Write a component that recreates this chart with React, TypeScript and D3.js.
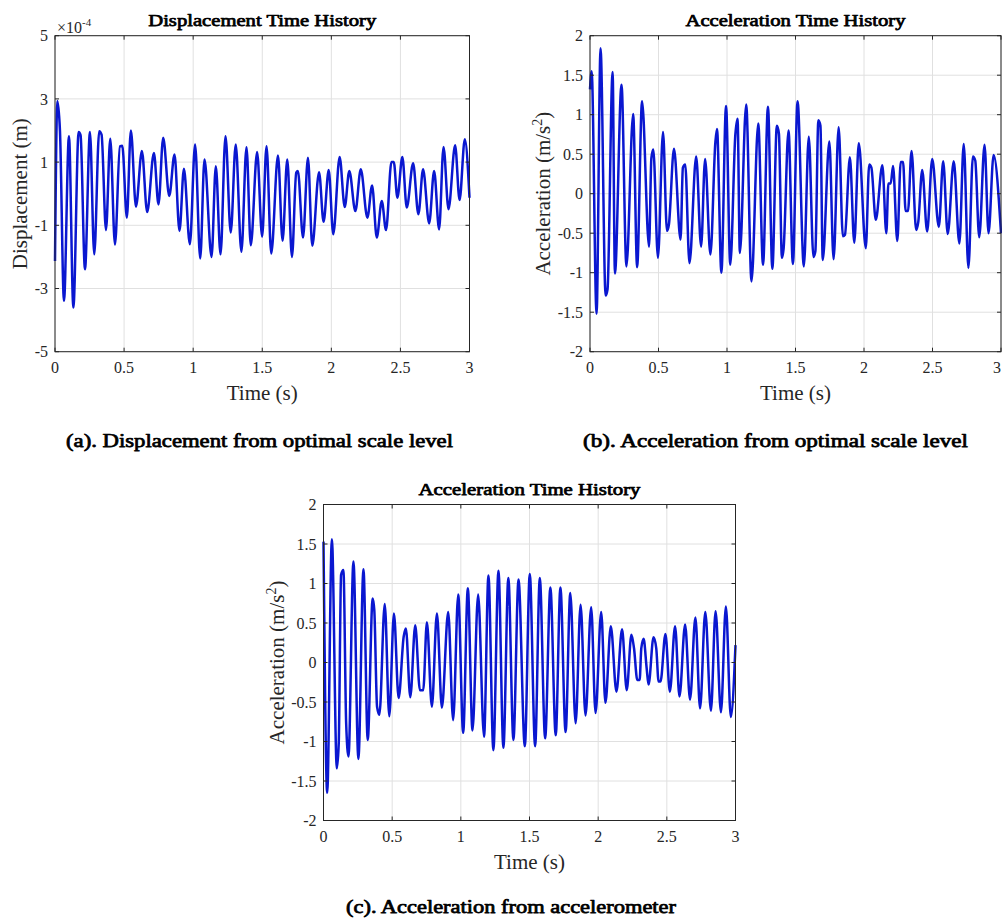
import React from 'react';
import * as d3 from 'd3';

const xTicks = [0, 0.5, 1, 1.5, 2, 2.5, 3];
const xTickLabels = ['0', '0.5', '1', '1.5', '2', '2.5', '3'];
const dispTicks = [-5, -3, -1, 1, 3, 5];
const dispTickLabels = ['-5', '-3', '-1', '1', '3', '5'];
const accTicks = [-2, -1.5, -1, -0.5, 0, 0.5, 1, 1.5, 2];
const accTickLabels = ['-2', '-1.5', '-1', '-0.5', '0', '0.5', '1', '1.5', '2'];

// (a) displacement (x1e-4 m), extrema
const dispTime = [0, 0.017, 0.036, 0.065, 0.101, 0.133, 0.171, 0.185, 0.217, 0.253, 0.284, 0.32, 0.337, 0.369, 0.4, 0.434, 0.47, 0.487, 0.52, 0.549, 0.586, 0.629, 0.667, 0.716, 0.749, 0.783, 0.827, 0.865, 0.901, 0.933, 0.976, 1.014, 1.051, 1.082, 1.133, 1.164, 1.198, 1.234, 1.272, 1.308, 1.349, 1.386, 1.417, 1.463, 1.499, 1.531, 1.565, 1.614, 1.647, 1.681, 1.715, 1.746, 1.758, 1.795, 1.831, 1.862, 1.911, 1.944, 1.981, 2.014, 2.06, 2.097, 2.13, 2.174, 2.213, 2.261, 2.295, 2.329, 2.365, 2.396, 2.435, 2.452, 2.478, 2.514, 2.546, 2.592, 2.63, 2.664, 2.708, 2.744, 2.78, 2.812, 2.848, 2.896, 2.928, 2.966, 3.0];
const dispValue = [-2.13, 2.93, 1.98, -3.39, 1.82, -3.6, 1.95, 1.85, -2.39, 1.95, -1.92, 1.98, 1.87, -1.15, 1.74, -1.61, 1.5, 1.52, -0.76, 2.0, -0.41, 1.35, -0.58, 1.29, -0.34, 1.77, -0.07, 1.24, -1.18, 0.79, -1.6, 1.56, -2.05, 1.08, -2.0, 0.87, -1.92, 1.82, -1.23, 1.56, -1.84, 1.47, -1.63, 1.32, -1.36, 1.5, -1.89, 1.21, -1.49, 1.08, -2.0, 0.67, 0.72, -1.39, 1.14, -1.65, 0.68, -0.89, 0.75, -1.28, 1.16, -0.42, 0.72, -0.55, 0.77, -0.76, 0.26, -1.39, -0.23, -1.15, 1.0, 1.0, -0.13, 1.16, -0.44, 0.96, -0.65, 0.77, -0.94, 0.72, -1.13, 1.48, -0.49, 1.53, -0.2, 1.72, -0.13];

// (b) acceleration from optimal scale level (m/s^2)
const accScaleTime = [0, 0.012, 0.048, 0.077, 0.114, 0.128, 0.165, 0.182, 0.23, 0.266, 0.315, 0.344, 0.38, 0.431, 0.448, 0.462, 0.496, 0.533, 0.562, 0.576, 0.613, 0.661, 0.678, 0.695, 0.726, 0.775, 0.811, 0.84, 0.879, 0.915, 0.927, 0.959, 0.993, 1.024, 1.061, 1.077, 1.094, 1.14, 1.179, 1.228, 1.263, 1.299, 1.331, 1.364, 1.379, 1.401, 1.413, 1.449, 1.481, 1.515, 1.561, 1.597, 1.631, 1.645, 1.667, 1.682, 1.699, 1.747, 1.778, 1.815, 1.846, 1.861, 1.897, 1.929, 1.962, 2.013, 2.038, 2.054, 2.086, 2.134, 2.163, 2.178, 2.195, 2.212, 2.243, 2.268, 2.285, 2.304, 2.321, 2.347, 2.381, 2.396, 2.425, 2.461, 2.498, 2.546, 2.578, 2.611, 2.655, 2.696, 2.728, 2.762, 2.795, 2.812, 2.841, 2.88, 2.909, 2.946, 3.0];
const accScaleValue = [1.32, 1.55, -1.52, 1.84, -1.29, -1.21, 1.54, -1.01, 1.38, -0.92, 1.01, -0.93, 1.17, -0.67, 0.45, 0.56, -0.81, 0.78, -0.47, -0.39, 0.57, -0.58, 0.33, 0.37, -0.88, 0.47, -0.67, 0.44, -0.77, 0.65, 0.82, -1.0, 1.11, -0.9, 0.75, 0.95, -0.75, 1.13, -1.11, 0.89, -0.9, 1.1, -0.95, 0.86, 0.76, -0.81, -0.7, 0.8, -0.89, 1.17, -0.92, 0.72, -0.8, -0.73, 0.93, 0.86, -0.84, 0.66, -0.83, 0.84, -0.54, -0.52, 0.46, -0.62, 0.64, -0.69, 0.37, 0.33, -0.33, 0.36, -0.5, 0.13, 0.13, 0.35, -0.6, 0.4, 0.4, -0.22, -0.22, 0.54, -0.46, -0.36, 0.3, -0.48, 0.44, -0.42, 0.41, -0.51, 0.41, -0.63, 0.63, -0.94, 0.47, 0.42, -0.55, 0.62, -0.5, 0.49, -0.5];

// (c) acceleration from accelerometer (m/s^2)
const accMeterTime = [0, 0.027, 0.061, 0.097, 0.111, 0.128, 0.145, 0.165, 0.182, 0.218, 0.254, 0.291, 0.322, 0.358, 0.37, 0.39, 0.407, 0.446, 0.479, 0.513, 0.547, 0.584, 0.6, 0.632, 0.668, 0.702, 0.726, 0.753, 0.789, 0.826, 0.862, 0.908, 0.944, 0.981, 1.017, 1.051, 1.085, 1.126, 1.169, 1.201, 1.237, 1.274, 1.31, 1.346, 1.383, 1.42, 1.466, 1.502, 1.541, 1.575, 1.614, 1.652, 1.691, 1.725, 1.763, 1.797, 1.836, 1.872, 1.908, 1.949, 1.981, 2.022, 2.053, 2.092, 2.133, 2.174, 2.208, 2.242, 2.261, 2.285, 2.302, 2.314, 2.331, 2.353, 2.367, 2.403, 2.423, 2.44, 2.454, 2.49, 2.522, 2.56, 2.592, 2.633, 2.669, 2.708, 2.742, 2.78, 2.821, 2.855, 2.894, 2.93, 2.966, 3.0];
const accMeterValue = [1.53, -1.65, 1.56, -1.34, -1.02, 1.11, 1.17, -0.77, -1.19, 1.28, -1.22, 1.18, -0.98, 0.81, 0.66, -0.56, -0.66, 0.74, -0.68, 0.62, -0.45, 0.33, 0.43, -0.44, 0.47, -0.35, -0.35, 0.51, -0.56, 0.62, -0.57, 0.64, -0.73, 0.86, -0.89, 0.94, -0.86, 0.86, -0.94, 1.1, -1.11, 1.16, -1.08, 1.07, -0.98, 1.05, -1.06, 1.12, -1.06, 1.07, -0.96, 0.95, -0.92, 0.95, -0.88, 0.88, -0.77, 0.73, -0.67, 0.7, -0.64, 0.64, -0.51, 0.46, -0.37, 0.42, -0.35, 0.35, 0.18, -0.22, -0.22, 0.18, 0.3, -0.07, -0.28, 0.32, 0.18, -0.24, -0.24, 0.36, -0.37, 0.46, -0.43, 0.48, -0.47, 0.57, -0.58, 0.64, -0.61, 0.65, -0.63, 0.71, -0.69, 0.22];

const FONT = '"Liberation Serif", "Times New Roman", Times, serif';
const AXC = '#262626';
const LINE = '#0a17d0';

type PanelProps = {
  x0: number; x1: number; y0: number; y1: number;
  yDomain: [number, number];
  yTicks: number[]; yTickLabels: string[];
  time: number[]; values: number[];
  title: string; titleWidth: number;
  ylabel: React.ReactNode; ylabelX: number;
};

function BoldText(props: any) {
  const { children, ...rest } = props;
  return (
    <text {...rest} fontFamily={FONT} fill="#000" stroke="#000" strokeWidth={0.75} strokeLinejoin="round">{children}</text>
  );
}

function Panel(p: PanelProps) {
  const x = d3.scaleLinear().domain([0, 3]).range([p.x0, p.x1]);
  const y = d3.scaleLinear().domain(p.yDomain).range([p.y1, p.y0]);
  const pts = p.time.map((t, i) => [t, p.values[i]] as [number, number]);
  const line = d3.line<[number, number]>()
    .x(d => x(d[0]))
    .y(d => y(d[1]))
    .curve(d3.curveMonotoneX);
  const cx = (p.x0 + p.x1) / 2;
  const cy = (p.y0 + p.y1) / 2;
  const tl = 4;
  return (
    <g>
      <rect x={p.x0} y={p.y0} width={p.x1 - p.x0} height={p.y1 - p.y0} fill="#fff" />
      {xTicks.map(t => (
        <line key={'gx' + t} x1={x(t)} x2={x(t)} y1={p.y0} y2={p.y1} stroke="#e0e0e0" strokeWidth={1} />
      ))}
      {p.yTicks.map(v => (
        <line key={'gy' + v} x1={p.x0} x2={p.x1} y1={y(v)} y2={y(v)} stroke="#e0e0e0" strokeWidth={1} />
      ))}
      <path d={line(pts) || ''} fill="none" stroke={LINE} strokeWidth={2.5} strokeLinejoin="round" />
      {xTicks.map(t => (
        <g key={'tx' + t}>
          <line x1={x(t)} x2={x(t)} y1={p.y1} y2={p.y1 - tl} stroke={AXC} />
          <line x1={x(t)} x2={x(t)} y1={p.y0} y2={p.y0 + tl} stroke={AXC} />
        </g>
      ))}
      {p.yTicks.map(v => (
        <g key={'ty' + v}>
          <line x1={p.x0} x2={p.x0 + tl} y1={y(v)} y2={y(v)} stroke={AXC} />
          <line x1={p.x1} x2={p.x1 - tl} y1={y(v)} y2={y(v)} stroke={AXC} />
        </g>
      ))}
      <rect x={p.x0} y={p.y0} width={p.x1 - p.x0} height={p.y1 - p.y0} fill="none" stroke={AXC} strokeWidth={1} />
      {xTicks.map((t, i) => {
        const xx = Math.min(x(t), 1002 - 5);
        return (
          <text key={'lx' + t} x={xx} y={p.y1 + 21} textAnchor="middle" fontSize={16} fill={AXC} fontFamily={FONT}>{xTickLabels[i]}</text>
        );
      })}
      {p.yTicks.map((v, i) => (
        <text key={'ly' + v} x={p.x0 - 7} y={y(v)} dy="0.35em" textAnchor="end" fontSize={16} fill={AXC} fontFamily={FONT}>{p.yTickLabels[i]}</text>
      ))}
      <text x={cx} y={p.y1 + 48} textAnchor="middle" fontSize={21} fill={AXC} fontFamily={FONT}>Time (s)</text>
      <text transform={`translate(${p.ylabelX},${cy}) rotate(-90)`} textAnchor="middle" fontSize={21} fill={AXC} fontFamily={FONT}>{p.ylabel}</text>
      <BoldText x={cx} y={p.y0 - 10} textAnchor="middle" fontSize={17}
        textLength={p.titleWidth} lengthAdjust="spacingAndGlyphs">{p.title}</BoldText>
    </g>
  );
}

const accLabel = (
  <>
    <tspan>Acceleration (m/s</tspan>
    <tspan fontSize={14} dy={-8}>2</tspan>
    <tspan dy={8}>)</tspan>
  </>
);

export default function App() {
  return (
    <svg width={1002} height={924} style={{ position: 'absolute', left: 0, top: 0, background: '#fff' }}>
      <rect x={0} y={0} width={1002} height={924} fill="#fff" />
      <Panel x0={55} x1={469.5} y0={35.7} y1={351.7} yDomain={[-5, 5]}
        yTicks={dispTicks} yTickLabels={dispTickLabels} time={dispTime} values={dispValue}
        title="Displacement Time History" titleWidth={228} ylabel="Displacement (m)" ylabelX={27} />
      <text x={57} y={33} fontSize={16} fill={AXC} fontFamily={FONT}>×10<tspan fontSize={11} dy={-7}>-4</tspan></text>
      <Panel x0={590} x1={1001} y0={35.7} y1={351.7} yDomain={[-2, 2]}
        yTicks={accTicks} yTickLabels={accTickLabels} time={accScaleTime} values={accScaleValue}
        title="Acceleration Time History" titleWidth={220} ylabel={accLabel} ylabelX={550} />
      <Panel x0={323.5} x1={735.5} y0={504.5} y1={820.5} yDomain={[-2, 2]}
        yTicks={accTicks} yTickLabels={accTickLabels} time={accMeterTime} values={accMeterValue}
        title="Acceleration Time History" titleWidth={222} ylabel={accLabel} ylabelX={284} />
      <BoldText x={259.5} y={447} textAnchor="middle" fontSize={19}
        textLength={387} lengthAdjust="spacingAndGlyphs">(a). Displacement from optimal scale level</BoldText>
      <BoldText x={775.5} y={447} textAnchor="middle" fontSize={19}
        textLength={385} lengthAdjust="spacingAndGlyphs">(b). Acceleration from optimal scale level</BoldText>
      <BoldText x={511} y={913} textAnchor="middle" fontSize={19}
        textLength={330} lengthAdjust="spacingAndGlyphs">(c). Acceleration from accelerometer</BoldText>
    </svg>
  );
}
